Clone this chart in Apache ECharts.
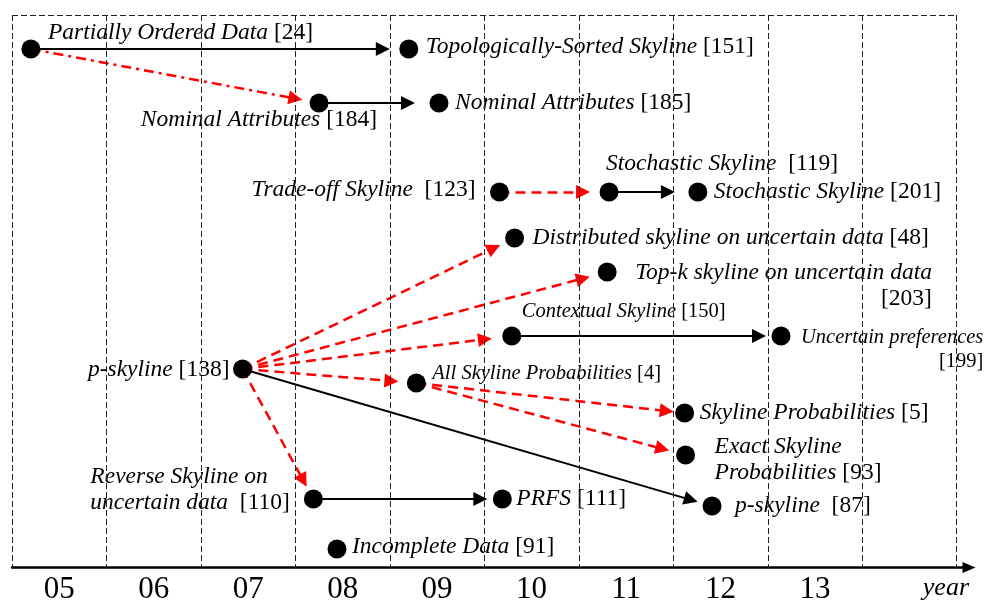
<!DOCTYPE html>
<html>
<head>
<meta charset="utf-8">
<script src="https://cdn.jsdelivr.net/npm/echarts@6/dist/echarts.min.js"></script>
<style>
  html, body { margin: 0; padding: 0; background: #fff; }
  #chart { width: 985px; height: 601px; }
</style>
</head>
<body>
<div id="chart"></div>
<script>
// timeline nodes: topic, reference number, year (x), row (y, top = 0)
const topics = [
  'Partially Ordered Data', 'Topologically-Sorted Skyline', 'Nominal Attributes', 'Nominal Attributes',
  'Trade-off Skyline', 'Stochastic Skyline', 'Stochastic Skyline', 'Distributed skyline on uncertain data',
  'Top-k skyline on uncertain data', 'Contextual Skyline', 'Uncertain preferences', 'p-skyline',
  'All Skyline Probabilities', 'Skyline Probabilities', 'Exact Skyline\nProbabilities',
  'Reverse Skyline on\nuncertain data', 'PRFS', 'p-skyline', 'Incomplete Data'
];
const refs = [24, 151, 184, 185, 123, 119, 201, 48, 203, 150, 199, 138, 4, 5, 93, 110, 111, 87, 91];
const years = [4.70, 8.70, 7.75, 9.02, 9.66, 10.82, 11.76, 9.82, 10.80, 9.79, 12.64, 6.94, 8.78, 11.62, 11.63, 7.69, 9.69, 11.91, 7.94];
const rows = [3.4, 3.4, 8.8, 8.8, 17.7, 17.7, 17.7, 22.3, 25.7, 32.1, 32.1, 35.4, 36.8, 39.8, 44.0, 48.4, 48.4, 49.1, 53.4];

// links between nodes (source index, target index)
const solidLinks = [[0, 1], [2, 3], [5, 6], [9, 10], [11, 17], [15, 16]];
const dashedLinks = [[4, 5], [11, 7], [11, 8], [11, 9], [11, 12], [11, 15], [12, 13], [12, 14]];
const dashDotLinks = [[0, 2]];

// axis
const yearTicks = [5, 6, 7, 8, 9, 10, 11, 12, 13];
const yearLabels = ['05', '06', '07', '08', '09', '10', '11', '12', '13'];
const dividers = [4.5, 5.5, 6.5, 7.5, 8.5, 9.5, 10.5, 11.5, 12.5, 13.5, 14.5];

// space (px) between arrow tip and target dot centre, per link
const solidGaps = [19, 24, 23, 15, 15, 15];
const dashedGaps = [19, 16, 18, 20, 18, 14, 11, 17];
const dashDotGaps = [17];

// label placement for each node: align, offset from dot centre, gap before ref, small font, ref on own line
const labelLayout = [
  { align: 'left', offset: [17, -16] },
  { align: 'left', offset: [17, -2] },
  { align: 'right', offset: [58, 17] },
  { align: 'left', offset: [16, 0] },
  { align: 'right', offset: [-24, -2], gap: '  ' },
  { align: 'left', offset: [-3, -28], gap: '  ' },
  { align: 'left', offset: [16, 0] },
  { align: 'left', offset: [18, 0] },
  { align: 'left', offset: [28, 14], ownLine: true },
  { align: 'left', offset: [10, -24], small: true },
  { align: 'left', offset: [20, 14], small: true, ownLine: true },
  { align: 'right', offset: [-13, 1] },
  { align: 'left', offset: [16, -9], small: true },
  { align: 'left', offset: [15, 0] },
  { align: 'left', offset: [29, 5] },
  { align: 'left', offset: [-223, -9], gap: '  ' },
  { align: 'left', offset: [14, 0] },
  { align: 'left', offset: [23, 0], gap: '  ' },
  { align: 'left', offset: [15, -2] }
];

const FONT = '"Liberation Serif", "Times New Roman", serif';
const rich = {
  i: { fontFamily: FONT, fontStyle: 'italic', fontSize: 23.5, lineHeight: 26, color: '#000' },
  n: { fontFamily: FONT, fontSize: 23.5, lineHeight: 26, color: '#000' },
  r: { fontFamily: FONT, fontSize: 23.5, lineHeight: 26, color: '#000', align: 'right' },
  is: { fontFamily: FONT, fontStyle: 'italic', fontSize: 20.5, lineHeight: 24, color: '#000' },
  ns: { fontFamily: FONT, fontSize: 20.5, lineHeight: 24, color: '#000' },
  rs: { fontFamily: FONT, fontSize: 20.5, lineHeight: 24, color: '#000', align: 'right' }
};

function labelText(i) {
  const L = labelLayout[i];
  const s = L.small ? 's' : '';
  const lines = topics[i].split('\n').map(t => '{i' + s + '|' + t + '}');
  const ref = '[' + refs[i] + ']';
  if (L.ownLine) {
    lines.push('{r' + s + '|' + ref + '}');
  } else {
    lines[lines.length - 1] += '{n' + s + '|' + (L.gap || ' ') + ref + '}';
  }
  return lines.join('\n');
}

const nodes = topics.map((t, i) => ({
  name: t,
  value: [years[i], rows[i]],
  label: {
    show: true,
    position: 'inside',
    align: labelLayout[i].align,
    verticalAlign: 'middle',
    offset: labelLayout[i].offset,
    formatter: labelText(i),
    rich: rich
  }
}));

const chart = echarts.init(document.getElementById('chart'), null, { renderer: 'canvas' });

chart.setOption({
  animation: false,
  backgroundColor: '#fff',
  grid: { left: 12, right: 16, top: 15, bottom: 33.5, containLabel: false, outerBoundsMode: 'none' },
  xAxis: {
    type: 'value',
    min: 4.5,
    max: 14.63,
    axisLine: {
      show: true,
      onZero: false,
      symbol: ['none', 'triangle'],
      symbolSize: [11, 13],
      lineStyle: { color: '#000', width: 2.5 }
    },
    axisTick: { show: false },
    splitLine: { show: false },
    axisLabel: {
      customValues: yearTicks,
      formatter: v => yearLabels[yearTicks.indexOf(v)],
      fontFamily: FONT,
      fontSize: 31,
      color: '#000',
      margin: 7
    },
    name: 'year',
    nameLocation: 'end',
    nameGap: 0,
    nameTextStyle: {
      fontFamily: FONT,
      fontStyle: 'italic',
      fontSize: 26,
      color: '#000',
      align: 'right',
      verticalAlign: 'top',
      padding: [8, 0, 0, 0]
    }
  },
  yAxis: { type: 'value', min: 0, max: 55.25, inverse: true, show: false },
  series: [
    {
      type: 'line',
      data: [],
      silent: true,
      markLine: {
        silent: true,
        symbol: ['none', 'none'],
        label: { show: false },
        lineStyle: { color: '#222', width: 1, type: [6, 3] },
        data: dividers.map(v => ({ xAxis: v })).concat([
          [{ coord: [dividers[0], 0] }, { coord: [dividers[dividers.length - 1], 0] }]
        ])
      }
    },
    {
      id: 'links',
      type: 'lines',
      coordinateSystem: 'cartesian2d',
      silent: true,
      symbol: ['none', 'triangle'],
      symbolSize: [12, 14],
      data: []
    },
    {
      type: 'scatter',
      silent: true,
      symbol: 'circle',
      symbolSize: 19,
      itemStyle: { color: '#000', opacity: 1 },
      data: nodes
    }
  ]
});

// arrows: from source dot to a point short of the target dot (arrowhead centred on the line end)
function arrow(link, gap, style) {
  const a = chart.convertToPixel({ gridIndex: 0 }, [years[link[0]], rows[link[0]]]);
  const b = chart.convertToPixel({ gridIndex: 0 }, [years[link[1]], rows[link[1]]]);
  const dx = b[0] - a[0], dy = b[1] - a[1];
  const len = Math.sqrt(dx * dx + dy * dy);
  const back = gap + 7;
  const end = [b[0] - dx / len * back, b[1] - dy / len * back];
  return {
    coords: [[years[link[0]], rows[link[0]]], chart.convertFromPixel({ gridIndex: 0 }, end)],
    lineStyle: style
  };
}

const solidStyle = { color: '#000', width: 2, type: 'solid', opacity: 1, curveness: 0 };
const dashedStyle = { color: '#ff0000', width: 2.5, type: [10, 6], opacity: 1, curveness: 0 };
const dashDotStyle = { color: '#ff0000', width: 2.5, type: [10, 5, 3, 5], opacity: 1, curveness: 0 };

chart.setOption({
  series: [{
    id: 'links',
    data: [].concat(
      solidLinks.map((l, k) => arrow(l, solidGaps[k], solidStyle)),
      dashedLinks.map((l, k) => arrow(l, dashedGaps[k], dashedStyle)),
      dashDotLinks.map((l, k) => arrow(l, dashDotGaps[k], dashDotStyle))
    )
  }]
});
</script>
</body>
</html>
